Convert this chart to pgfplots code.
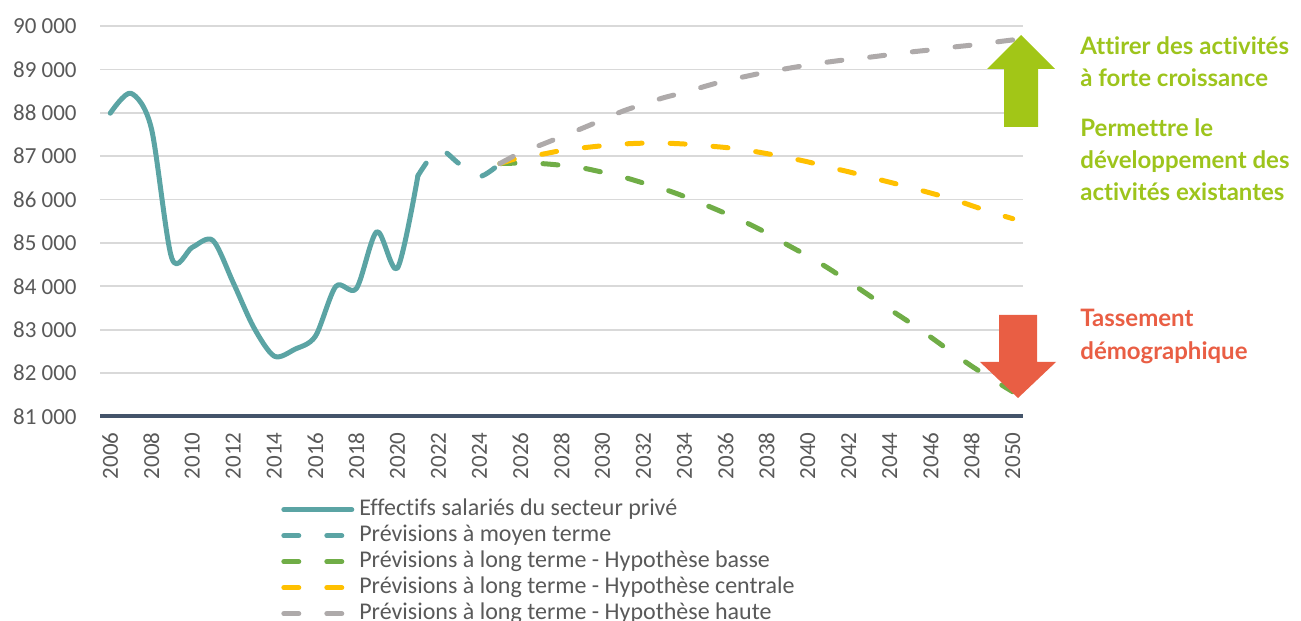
\documentclass[border=0pt]{standalone}
\usepackage{fontspec}
\setmainfont{Carlito}[Ligatures=NoCommon]
\newfontfamily\annotfont{Lato}[Ligatures=NoCommon]
\usepackage{pgfplots}
\pgfplotsset{compat=1.18}

\definecolor{tealline}{HTML}{5BA4A4}
\definecolor{gridgray}{HTML}{D9D9D9}
\definecolor{axisblue}{HTML}{44546A}
\definecolor{tickgray}{HTML}{595959}
\definecolor{lowgreen}{HTML}{70AD47}
\definecolor{midyellow}{HTML}{FFC000}
\definecolor{highgray}{HTML}{AEAAAA}
\definecolor{arrowgreen}{HTML}{A2C617}
\definecolor{textgreen}{HTML}{9DC41C}
\definecolor{arrowred}{HTML}{E95E44}

\begin{document}
\begin{tikzpicture}
\useasboundingbox (0,0) rectangle (650.5pt,310.5pt);
\begin{axis}[
    at={(50pt,102.25pt)}, anchor=south west,
    scale only axis, width=461.5pt, height=195.25pt,
    xmin=2005.5, xmax=2050.5, ymin=81000, ymax=90000,
    xtick={2006,2008,...,2050},
    ytick={81000,82000,...,90000},
    scaled y ticks=false,
    axis x line*=bottom, axis y line*=left,
    x axis line style={draw=axisblue, line width=2pt, -},
    y axis line style={draw=none},
    major tick length=0pt,
    ymajorgrids, grid style={draw=gridgray, line width=0.9pt},
    ticklabel style={font=\fontsize{11.5}{12}\selectfont, text=tickgray, inner sep=0pt},
    /pgf/number format/assume math mode=true,
    x tick label style={rotate=90, anchor=east, /pgf/number format/1000 sep={}},
    y tick label style={anchor=east, /pgf/number format/1000 sep={\ }},
    xticklabel shift=7.75pt, yticklabel shift=11.5pt,
    legend cell align=left,
    legend style={at={(axis description cs:0.196,-0.207)}, anchor=north west,
        draw=none, fill=none, inner sep=0pt, row sep=1pt,
        font=\fontsize{12}{13}\selectfont,
        nodes={inner sep=0pt, text height=9pt, text depth=3pt, text=tickgray},
        /tikz/every odd column/.style={column sep=2.5pt}},
    legend image code/.code={\draw[#1, line cap=round] (0pt,0pt) -- (34pt,0pt);},
    every axis plot/.append style={line width=2.5pt, line cap=round, line join=round},
]
% effectifs observes
\addplot[tealline, smooth] coordinates {
(2006,87990) (2007,88450) (2008,87650) (2009,84650) (2010,84900)
(2011,85060) (2012,84080) (2013,83050) (2014,82390) (2015,82550)
(2016,82850) (2017,84000) (2018,83950) (2019,85260) (2020,84420)
(2021,86550)};
% moyen terme
\addplot[tealline, smooth, dash pattern=on 7.5pt off 14pt] coordinates {
(2021,86550) (2022,87150) (2023,86830) (2024,86530) (2025,86830)};
% basse
\addplot[lowgreen, smooth, dash pattern=on 7.5pt off 14pt] coordinates {
(2025,86830) (2026,86840) (2027,86830) (2028,86790) (2029,86730)
(2030,86630) (2031,86520) (2032,86380) (2033,86240) (2034,86070)
(2035,85880) (2036,85680) (2037,85470) (2038,85230) (2039,84960)
(2040,84700) (2041,84420) (2042,84110) (2043,83790) (2044,83470)
(2045,83160) (2046,82830) (2047,82490) (2048,82160) (2049,81860)
(2050,81570)};
% centrale
\addplot[midyellow, smooth, dash pattern=on 7.5pt off 14pt] coordinates {
(2025,86830) (2026,86970) (2027,87040) (2028,87130) (2029,87190)
(2030,87240) (2031,87280) (2032,87300) (2033,87300) (2034,87280)
(2035,87240) (2036,87200) (2037,87140) (2038,87060) (2039,86970)
(2040,86870) (2041,86750) (2042,86640) (2043,86520) (2044,86400)
(2045,86280) (2046,86150) (2047,86020) (2048,85860) (2049,85700)
(2050,85560)};
% haute
\addplot[highgray, smooth, dash pattern=on 7.5pt off 14pt] coordinates {
(2025,86830) (2026,87080) (2027,87260) (2028,87450) (2029,87640)
(2030,87840) (2031,88040) (2032,88200) (2033,88350) (2034,88470)
(2035,88610) (2036,88740) (2037,88840) (2038,88940) (2039,89020)
(2040,89100) (2041,89170) (2042,89230) (2043,89280) (2044,89340)
(2045,89400) (2046,89450) (2047,89510) (2048,89560) (2049,89620)
(2050,89680)};
\legend{Effectifs salariés du secteur privé,
        Prévisions à moyen terme,
        Prévisions à long terme - Hypothèse basse,
        Prévisions à long terme - Hypothèse centrale,
        Prévisions à long terme - Hypothèse haute}
\end{axis}

\begin{scope}[x=0.5pt, y=-0.5pt, shift={(0pt,310.5pt)}]
\fill[arrowgreen] (1021,35) -- (1055,69) -- (1038,69) -- (1038,127)
    -- (1004,127) -- (1004,69) -- (987,69) -- cycle;
\fill[arrowred] (999,315) -- (1037,315) -- (1037,362) -- (1056,362)
    -- (1018,398) -- (980,362) -- (999,362) -- cycle;
\begin{scope}[every node/.style={anchor=base west, inner sep=0pt,
    font=\annotfont\bfseries\fontsize{12}{14}\selectfont}]
\node[text=textgreen] at (1080,55) {Attirer des activités};
\node[text=textgreen] at (1080,87) {à forte croissance};
\node[text=textgreen] at (1080,137) {Permettre le};
\node[text=textgreen] at (1080,169) {développement des};
\node[text=textgreen] at (1080,201) {activités existantes};
\node[text=arrowred] at (1080,327) {Tassement};
\node[text=arrowred] at (1080,360) {démographique};
\end{scope}
\end{scope}
\end{tikzpicture}
\end{document}
